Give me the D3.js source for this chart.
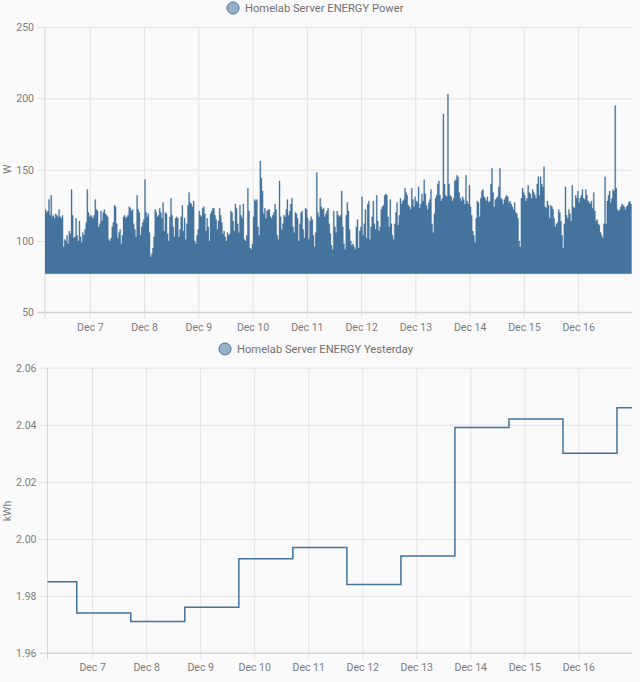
<!DOCTYPE html>
<html>
<head>
<meta charset="utf-8">
<script src="https://cdn.jsdelivr.net/npm/d3@7"></script>
<style>
  html, body { margin: 0; padding: 0; background: #fafafa; }
  svg { display: block; font-family: Roboto, "Noto Sans", sans-serif; }
</style>
</head>
<body>
<svg id="chart" width="640" height="682"></svg>
<script>
// ---------- DATA ----------
const powerTitle = "Homelab Server ENERGY Power";
const energyTitle = "Homelab Server ENERGY Yesterday";
const powerUnit = "W";
const energyUnit = "kWh";

// Power readings: per-30-minute maximum (W), starting Dec 6 04:10
const powerStart = [2023, 11, 6, 4, 10];
const powerStepMinutes = 30;
const powerFloor = 77;
const powerPeaks = [
  122,120,121,129,118,132,117,118,116,119,
  118,117,122,117,116,118,96,101,100,104,
  98,107,105,136,118,102,103,116,104,100,
  114,103,99,106,104,108,113,136,120,117,
  118,117,116,118,129,122,121,110,112,121,
  114,120,122,119,118,117,101,100,102,110,
  113,125,124,112,102,106,108,98,104,117,
  118,116,117,118,124,123,121,122,112,108,
  103,132,122,120,104,110,113,115,
  143,120,117,119,106,89,91,95,103,122,
  120,117,118,123,120,116,127,107,120,119,
  105,100,117,130,118,110,103,116,117,116,
  103,108,117,125,107,116,101,112,125,134,
  127,126,124,128,100,98,104,108,121,118,
  117,123,124,119,107,116,110,100,119,121,
  123,123,118,115,108,114,123,118,113,105,
  107,103,100,106,104,105,121,120,114,107,
  126,123,112,106,125,118,116,
  126,101,100,104,137,121,95,94,98,117,
  129,128,129,110,104,156,144,135,119,123,
  116,121,122,122,117,116,118,120,126,122,
  104,101,142,117,108,112,118,117,122,129,
  118,121,126,130,110,106,120,119,116,100,
  112,120,121,108,102,123,122,116,101,114,
  117,115,104,96,106,148,120,117,130,124,
  122,123,117,119,121,123,112,105,97,94,
  121,110,106,121,118,117,
  118,135,110,98,94,118,127,121,108,100,
  97,98,96,94,110,115,95,107,110,131,
  104,112,122,102,126,128,101,110,117,128,
  112,108,132,114,107,110,122,124,125,132,
  133,132,117,110,129,112,104,101,112,120,
  127,111,118,130,126,128,129,137,134,132,
  125,124,122,137,129,124,131,128,127,138,
  123,126,133,128,143,133,125,122,127,129,
  136,112,106,119,130,132,
  140,142,132,128,130,189,140,132,131,203,
  140,132,131,128,130,142,143,146,145,134,
  130,128,131,129,126,146,128,126,139,124,
  118,107,104,99,116,128,127,117,130,135,
  136,131,130,128,131,127,128,140,151,134,
  124,129,130,131,138,151,130,129,126,129,
  131,132,131,127,128,126,124,122,127,120,
  119,116,100,96,130,137,134,132,128,130,
  139,134,133,130,136,134,132,
  130,140,145,132,145,140,138,152,124,123,
  128,125,116,125,124,122,116,110,112,113,
  122,120,114,104,95,112,138,118,116,122,
  119,114,139,124,123,132,130,135,127,130,
  132,136,130,129,136,132,128,127,126,128,
  123,134,121,114,115,112,111,106,104,102,
  112,145,112,128,132,135,127,130,136,135,
  195,137,122,121,122,124,126,125,124,122,
  124,125,127,128,126,118
];

// Yesterday energy (kWh): change times [day, hour, minute] and values
const energyTimes = [[6,4,10],[6,17,10],[7,17,10],[8,17,10],[9,17,10],[10,17,10],[11,17,10],[12,17,10],[13,17,10],[14,17,10],[15,17,10],[16,17,10],[16,23,50]];
const energyValues = [1.985,1.974,1.971,1.976,1.993,1.997,1.984,1.994,2.039,2.042,2.030,2.046,2.046];

// Axis ticks
const dayTicks = [7,8,9,10,11,12,13,14,15,16];
const powerTicks = [50,100,150,200,250];
const energyTicks = [1.96,1.98,2.00,2.02,2.04,2.06];
const domainStart = [2023, 11, 6, 4, 10];
const domainEnd = [2023, 11, 16, 23, 50];

// ---------- DRAW ----------
const svg = d3.select("#chart");
const lineColor = "#44739e";
const gridColor = "#e2e2e2";
const tickColor = "#7c7c7c";
const legendColor = "#707070";
const mk = a => new Date(a[0], a[1], a[2], a[3], a[4]);
const t0 = mk(domainStart), t1 = mk(domainEnd);
const fmtDay = d3.timeFormat("%b %-d");
const tickDates = dayTicks.map(d => new Date(2023, 11, d));

function panel(cfg) {
  const {left, right, top, bottom, yDomain, yTicks, yFmt, unit, title, legendX, legendY, unitY} = cfg;
  const x = d3.scaleTime().domain([t0, t1]).range([left, right]);
  const y = d3.scaleLinear().domain(yDomain).range([bottom, top]);
  const g = svg.append("g");

  // horizontal grid + y labels
  const ya = d3.axisLeft(y).tickValues(yTicks).tickFormat(yFmt)
    .tickSizeInner(right - left + 8).tickSizeOuter(0).tickPadding(3);
  const yg = g.append("g").attr("transform", `translate(${right},0)`).call(ya);
  yg.select(".domain").remove();
  yg.selectAll("line").attr("stroke", gridColor);
  yg.selectAll("text").attr("fill", tickColor).style("font-size", "10.5px").style("font-family", "Roboto");

  // vertical grid + x labels
  const xa = d3.axisBottom(x).tickValues(tickDates).tickFormat(fmtDay)
    .tickSizeInner(bottom - top + 6).tickSizeOuter(0).tickPadding(5);
  const xg = g.append("g").attr("transform", `translate(0,${top})`).call(xa);
  xg.select(".domain").remove();
  xg.selectAll("line").attr("stroke", gridColor);
  xg.selectAll("text").attr("fill", tickColor).style("font-size", "10.5px").style("font-family", "Roboto");

  // axis borders
  g.append("line").attr("x1", left).attr("x2", left).attr("y1", top).attr("y2", bottom + 6).attr("stroke", "#d6d6d6");
  g.append("line").attr("x1", left - 8).attr("x2", right).attr("y1", bottom).attr("y2", bottom).attr("stroke", "#d0d0d0");

  // unit label
  g.append("text").attr("transform", `translate(11,${unitY}) rotate(-90)`)
    .attr("text-anchor", "middle").attr("fill", tickColor)
    .style("font-size", "10.5px").text(unit);

  // legend
  g.append("circle").attr("cx", legendX).attr("cy", legendY).attr("r", 6)
    .attr("fill", "rgba(68,115,158,0.55)").attr("stroke", lineColor).attr("stroke-width", 1);
  g.append("text").attr("x", legendX + 12).attr("y", legendY + 4)
    .attr("fill", legendColor).style("font-size", "11.2px").text(title);

  return {x, y, g};
}

// Top: power
const P = panel({left: 45, right: 632, top: 27, bottom: 312.3, yDomain: [50, 250], yTicks: powerTicks,
  yFmt: d3.format("d"), unit: powerUnit, title: powerTitle, legendX: 233, legendY: 8, unitY: 169});
svg.append("clipPath").attr("id", "clipP").append("rect")
  .attr("x", 45).attr("y", 27).attr("width", 587).attr("height", 286);
const pStart = mk(powerStart);
const powerData = powerPeaks.map((v, i) => ({t: new Date(+pStart + i * powerStepMinutes * 60000), v}));
const area = d3.area().curve(d3.curveStepAfter)
  .x(d => P.x(d.t)).y0(P.y(powerFloor)).y1(d => P.y(d.v));
P.g.append("path").datum(powerData).attr("clip-path", "url(#clipP)")
  .attr("d", area).attr("fill", lineColor).attr("stroke", lineColor).attr("stroke-width", 0.4).attr("stroke-opacity", 0.6);

// Bottom: energy
const E = panel({left: 47.5, right: 632, top: 367.7, bottom: 653, yDomain: [1.96, 2.06], yTicks: energyTicks,
  yFmt: d3.format(".2f"), unit: energyUnit, title: energyTitle, legendX: 225, legendY: 349, unitY: 511});
const energyData = energyTimes.map((a, i) => ({t: new Date(2023, 11, a[0], a[1], a[2]), v: energyValues[i]}));
const line = d3.line().curve(d3.curveStepAfter).x(d => E.x(d.t)).y(d => E.y(d.v));
E.g.append("path").datum(energyData).attr("d", line)
  .attr("fill", "none").attr("stroke", lineColor).attr("stroke-width", 1.5);
</script>
</body>
</html>
